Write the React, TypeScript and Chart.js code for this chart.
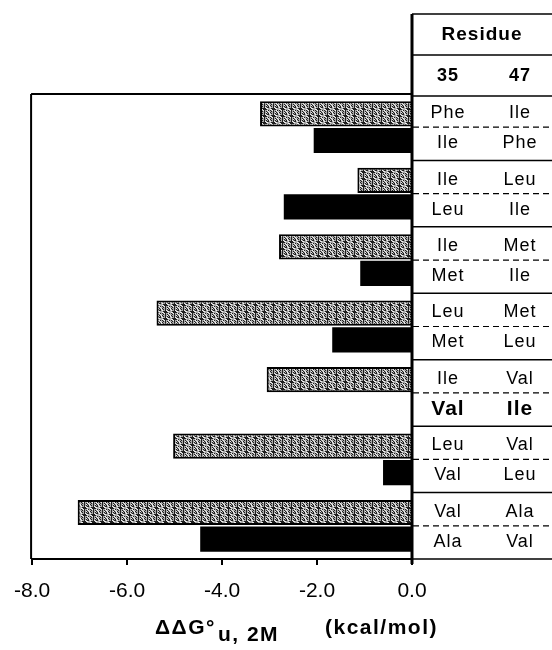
import React, { useEffect, useRef } from 'react';
import { Chart, registerables } from 'chart.js';

Chart.register(...registerables);

// Mutant pairs (residue 35 / residue 47), top-to-bottom
const groups = ['F35/I47', 'I35/L47', 'I35/M47', 'L35/M47', 'I35/V47', 'L35/V47', 'V35/A47'];
// Stippled bars (upper entry of each pair)
const stippledValues = [-3.2, -1.15, -2.8, -5.38, -3.06, -5.03, -7.04];
// Solid black bars (lower entry of each pair)
const solidValues = [-2.07, -2.7, -1.09, -1.68, 0, -0.61, -4.46];
// Table text
const res35Top = ['Phe', 'Ile', 'Ile', 'Leu', 'Ile', 'Leu', 'Val'];
const res47Top = ['Ile', 'Leu', 'Met', 'Met', 'Val', 'Val', 'Ala'];
const res35Bottom = ['Ile', 'Leu', 'Met', 'Met', 'Val', 'Val', 'Ala'];
const res47Bottom = ['Phe', 'Ile', 'Ile', 'Leu', 'Ile', 'Leu', 'Val'];
const wildTypeRow = 4;
const headerTitle = 'Residue';
const headerCols = ['35', '47'];
const xMin = -8;
const xMax = 0;
const xStep = 2;

const FONT = '"Liberation Sans", Arial, Helvetica, sans-serif';

function makePattern(): CanvasPattern | string {
  const c = document.createElement('canvas');
  c.width = 9;
  c.height = 7;
  const g = c.getContext('2d');
  if (!g) return '#999';
  g.fillStyle = '#a8a8a8';
  g.fillRect(0, 0, 9, 7);
  for (let y = 0; y < 7; y++) {
    for (let x = 0; x < 9; x++) {
      const h = (x * 37 + y * 71 + x * y * 13) % 11;
      if (h < 4) {
        g.fillStyle = '#1e1e1e';
        g.fillRect(x, y, 1, 1);
      } else if (h > 8) {
        g.fillStyle = '#eeeeee';
        g.fillRect(x, y, 1, 1);
      }
    }
  }
  return g.createPattern(c, 'repeat') || '#999';
}

export default function App() {
  const ref = useRef<HTMLCanvasElement>(null);

  useEffect(() => {
    document.body.style.margin = '0';
    const canvas = ref.current;
    if (!canvas) return;
    const pattern = makePattern();

    const tablePlugin = {
      id: 'residueTable',
      afterDraw(chart: any) {
        const { ctx, chartArea, scales } = chart;
        const ys = scales.y;
        const L = chartArea.right;
        const R = chart.width;
        const n = groups.length;
        const band = (chartArea.bottom - chartArea.top) / n;
        const line = (x1: number, y1: number, x2: number, y2: number) => {
          ctx.beginPath();
          ctx.moveTo(x1, y1);
          ctx.lineTo(x2, y2);
          ctx.stroke();
        };
        ctx.save();
        ctx.strokeStyle = '#000';
        // plot frame
        ctx.lineWidth = 2;
        line(chartArea.left - 1, chartArea.top, L, chartArea.top);
        line(chartArea.left - 1, chartArea.top, chartArea.left - 1, chartArea.bottom);
        // table frame lines
        ctx.lineWidth = 1.5;
        line(L, 14, R, 14);
        line(L, 55, R, 55);
        for (let i = 0; i <= n; i++) {
          const b = chartArea.top + band * i + (i === 0 ? 2 : 0);
          line(L, b, R, b);
        }
        ctx.setLineDash([6, 4]);
        ctx.lineWidth = 1.2;
        for (let i = 0; i < n; i++) {
          const c = ys.getPixelForValue(i);
          line(L + 1, c, R, c);
        }
        ctx.setLineDash([]);
        // thick zero / table left line
        ctx.lineWidth = 3;
        line(L, 14, L, chartArea.bottom + 5);

        // texts
        ctx.fillStyle = '#000';
        ctx.textAlign = 'center';
        ctx.textBaseline = 'middle';
        try { (ctx as any).letterSpacing = '1px'; } catch (e) {}
        ctx.font = `bold 19px ${FONT}`;
        ctx.fillText(headerTitle, 482, 35);
        ctx.font = `bold 18px ${FONT}`;
        ctx.fillText(headerCols[0], 448, 76);
        ctx.fillText(headerCols[1], 520, 76);
        const c35 = 448;
        const c47 = 520;
        for (let i = 0; i < n; i++) {
          const c = ys.getPixelForValue(i);
          ctx.font = `18px ${FONT}`;
          ctx.fillText(res35Top[i], c35, c - 14);
          ctx.fillText(res47Top[i], c47, c - 14);
          ctx.font = i === wildTypeRow ? `bold 21px ${FONT}` : `18px ${FONT}`;
          ctx.fillText(res35Bottom[i], c35, c + 16);
          ctx.fillText(res47Bottom[i], c47, c + 16);
        }

        // axis title with subscript
        ctx.textAlign = 'left';
        ctx.textBaseline = 'alphabetic';
        try { (ctx as any).letterSpacing = '1.5px'; } catch (e) {}
        ctx.font = `bold 21px ${FONT}`;
        let x = 155;
        const main = 'ΔΔG°';
        ctx.fillText(main, x, 634);
        x += ctx.measureText(main).width;
        const sub = 'u, 2M';
        ctx.fillText(sub, x + 2, 641);
        ctx.fillText('(kcal/mol)', 325, 634);
        ctx.restore();
      },
    };

    const chart = new Chart(canvas, {
      type: 'bar',
      data: {
        labels: groups,
        datasets: [
          {
            label: 'upper',
            data: stippledValues,
            backgroundColor: pattern as any,
            borderColor: '#000',
            borderWidth: 2,
            borderSkipped: 'start',
            categoryPercentage: 0.8,
            barPercentage: 0.95,
          },
          {
            label: 'lower',
            data: solidValues,
            backgroundColor: '#000',
            borderWidth: 0,
            categoryPercentage: 0.8,
            barPercentage: 0.95,
          },
        ],
      },
      options: {
        indexAxis: 'y',
        responsive: false,
        animation: false,
        devicePixelRatio: 1,
        layout: { padding: { top: 94, left: 30, right: 140, bottom: 0 } },
        plugins: {
          legend: { display: false },
          tooltip: { enabled: false },
          title: { display: false },
        },
        scales: {
          y: {
            type: 'category',
            display: false,
            offset: true,
          },
          x: {
            type: 'linear',
            position: 'bottom',
            min: xMin,
            max: xMax,
            afterFit: (scale: any) => {
              scale.height = 91;
            },
            ticks: {
              stepSize: xStep,
              color: '#000',
              padding: 14,
              maxRotation: 0,
              font: { family: FONT, size: 21 },
              callback: (v: any) => Number(v).toFixed(1),
            },
            grid: {
              drawOnChartArea: false,
              drawTicks: true,
              tickLength: 6,
              color: '#000',
              lineWidth: 2,
            },
            border: { display: true, color: '#000', width: 2 },
          },
        },
      },
      plugins: [tablePlugin],
    });
    return () => chart.destroy();
  }, []);

  return <canvas ref={ref} width={552} height={650} style={{ display: 'block' }} />;
}
